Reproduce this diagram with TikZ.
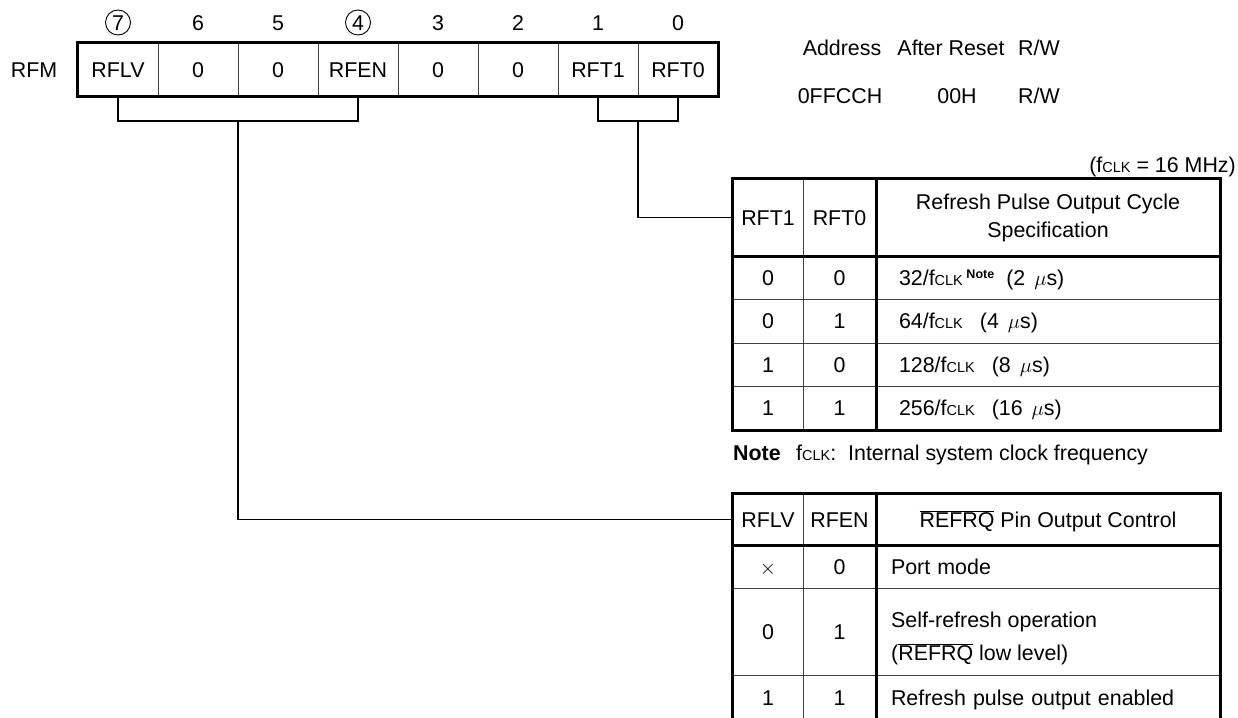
\documentclass[tikz,border=0pt]{standalone}
\usepackage{fontspec}
\setmainfont{Liberation Sans}
\newcommand{\fclk}{f{\fontsize{14.5}{14.5}\selectfont CLK}}
\newcommand{\ovlbar}[1]{$\overline{\mbox{#1}}$}
\newcommand{\notesup}{\raisebox{7pt}{\fontsize{12.5}{12.5}\selectfont\bfseries Note}}
\begin{document}
\begin{tikzpicture}[x=1pt,y=-1pt,
  every node/.style={font=\fontsize{21.4}{25}\selectfont, inner sep=0pt},
  cell/.style 2 args={draw=black!75, line width=0.9pt, minimum width=#1, minimum height=#2},
  oneline/.style={text height=15.3pt, text depth=0pt},
  lefttext/.style={text width=#1, align=left},
  thickline/.style={line width=2.5pt},
  wire/.style={line width=1.2pt},
  bitcircle/.style={circle, draw, line width=0.9pt, minimum size=25pt}]
\clip (0,0) rectangle (1238,717);
\fill[white] (0,0) rectangle (1238,717);

% ---- register ----
\foreach \i/\t/\x in {7/RFLV/118, 6/0/198, 5/0/278, 4/RFEN/358, 3/0/438, 2/0/518, 1/RFT1/598, 0/RFT0/678} {
  \node[cell={80pt}{53pt}, oneline] (b\i) at (\x,69.5) {\t};
  \node[oneline] (n\i) at (\x,22.5) {\i};
}
\node[bitcircle] (c7) at (n7) {};
\node[bitcircle] (c4) at (n4) {};
\draw[thickline] (b7.north west) rectangle (b0.south east);
\node[oneline] (rfm) at (34,69.5) {RFM};

% ---- address info ----
\node[oneline] (haddr) at (842,48) {Address};
\node[oneline] (hrst) at (951,48) {After Reset};
\node[oneline] (hrw) at (1039,48) {R/W};
\node[oneline] (vaddr) at (840,96) {0FFCCH};
\node[oneline] (vrst) at (957,96) {00H};
\node[oneline] (vrw) at (1039,96) {R/W};

% ---- table 1 ----
\node[anchor=east, oneline] (fnote) at (1236,165) {(\fclk\ = 16 MHz)};
\node[cell={70pt}{77pt}, oneline] (t1a) at (768,217.5) {RFT1};
\node[cell={73pt}{77pt}, oneline] (t1b) at (839.5,217.5) {RFT0};
\node[cell={344pt}{77pt}, align=center, font=\fontsize{21.4}{28}\selectfont] (t1c) at (1048,217.5) {Refresh Pulse Output Cycle\\Specification};

\node[cell={70pt}{43pt}, oneline] (t1a1) at (768,277.5) {0};
\node[cell={73pt}{43pt}, oneline] (t1b1) at (839.5,277.5) {0};
\node[cell={344pt}{43pt}, oneline, lefttext=298pt, inner xsep=23pt] (t1c1) at (1048,277.5) {32/\fclk\,\notesup\hspace{12pt}(2\hspace{9pt}$\mu$s)};

\node[cell={70pt}{44pt}, oneline] (t1a2) at (768,321) {0};
\node[cell={73pt}{44pt}, oneline] (t1b2) at (839.5,321) {1};
\node[cell={344pt}{44pt}, oneline, lefttext=298pt, inner xsep=23pt] (t1c2) at (1048,321) {64/\fclk\hspace{17pt}(4\hspace{9pt}$\mu$s)};

\node[cell={70pt}{43pt}, oneline] (t1a3) at (768,364.5) {1};
\node[cell={73pt}{43pt}, oneline] (t1b3) at (839.5,364.5) {0};
\node[cell={344pt}{43pt}, oneline, lefttext=298pt, inner xsep=23pt] (t1c3) at (1048,364.5) {128/\fclk\hspace{17pt}(8\hspace{9pt}$\mu$s)};

\node[cell={70pt}{44pt}, oneline] (t1a4) at (768,408) {1};
\node[cell={73pt}{44pt}, oneline] (t1b4) at (839.5,408) {1};
\node[cell={344pt}{44pt}, oneline, lefttext=298pt, inner xsep=23pt] (t1c4) at (1048,408) {256/\fclk\hspace{17pt}(16\hspace{9pt}$\mu$s)};

\draw[thickline] (t1a.north west) rectangle (t1c4.south east);
\draw[thickline] (t1a.south west) -- (t1c.south east);
\draw[thickline] (t1b.north east) -- (t1b4.south east);

\node[anchor=base west] (notelbl) at (733,460) {\bfseries Note};
\node[anchor=base west] (notetxt) at (796,460) {\fclk:\ \ Internal system clock frequency};

% ---- table 2 ----
\node[cell={70pt}{51pt}, oneline] (t2a) at (768,519.5) {RFLV};
\node[cell={73pt}{51pt}, oneline] (t2b) at (839.5,519.5) {RFEN};
\node[cell={344pt}{51pt}, oneline] (t2c) at (1048,519.5) {\ovlbar{REFRQ} Pin Output Control};

\node[cell={70pt}{43pt}, oneline] (t2a1) at (768,566.5) {$\times$};
\node[cell={73pt}{43pt}, oneline] (t2b1) at (839.5,566.5) {0};
\node[cell={344pt}{43pt}, oneline, lefttext=314pt, inner xsep=15pt] (t2c1) at (1048,566.5) {Port mode};

\node[cell={70pt}{87pt}, oneline] (t2a2) at (768,631.5) {0};
\node[cell={73pt}{87pt}, oneline] (t2b2) at (839.5,631.5) {1};
\node[cell={344pt}{87pt}] (t2c2) at (1048,631.5) {};
\node[anchor=west, align=left, font=\fontsize{21.4}{33}\selectfont] (t2c2txt) at (891,638) {Self-refresh operation\\(\ovlbar{REFRQ} low level)};

\node[cell={70pt}{45pt}, oneline] (t2a3) at (768,697.5) {1};
\node[cell={73pt}{45pt}, oneline] (t2b3) at (839.5,697.5) {1};
\node[cell={344pt}{45pt}, oneline, lefttext=314pt, inner xsep=15pt] (t2c3) at (1048,697.5) {Refresh pulse output enabled};

\draw[thickline] (t2a.north west) rectangle (t2c3.south east);
\draw[thickline] (t2a.south west) -- (t2c.south east);
\draw[thickline] (t2b.north east) -- (t2b3.south east);

% ---- connectors ----
\coordinate (j1) at (238,121);
\coordinate (j2) at (638,121);
\draw[wire] (b7.south) |- (j1) -| (b4.south);
\draw[wire] (b1.south) |- (j2) -| (b0.south);
\draw[wire] (j2) |- (t1a.west);
\draw[wire] (j1) |- (t2a.west);
\end{tikzpicture}
\end{document}
